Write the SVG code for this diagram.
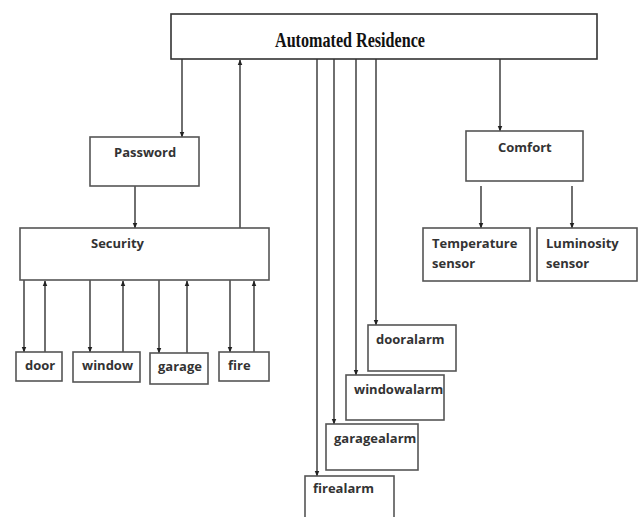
<svg xmlns="http://www.w3.org/2000/svg" width="640" height="517" viewBox="0 0 640 517">
<defs>
<marker id="ah" viewBox="0 0 10 10" refX="9" refY="5" markerWidth="6" markerHeight="6" orient="auto" markerUnits="userSpaceOnUse">
<path d="M0,1 L10,5 L0,9 z" fill="#222"/>
</marker>
<style>
.box{fill:#fff;stroke:#555;stroke-width:1.6}
.t{font-family:"Open Sans","Liberation Sans",sans-serif;font-weight:bold;font-size:13px;fill:#333}
.c line{stroke:#333;stroke-width:1.4;marker-end:url(#ah)}
.title{font-family:"Liberation Serif",serif;font-weight:bold;font-size:22px;fill:#111}
</style>
</defs>
<rect width="640" height="517" fill="#fff"/>
<g class="c" id="connectors">
<line x1="182" y1="59" x2="182" y2="137"/>
<line x1="240" y1="228" x2="240" y2="60"/>
<line x1="135" y1="186" x2="135" y2="228"/>
<line x1="500" y1="59" x2="500" y2="131"/>
<line x1="481" y1="186" x2="481" y2="228"/>
<line x1="572" y1="186" x2="572" y2="228"/>
<line x1="24" y1="280" x2="24" y2="352"/>
<line x1="45" y1="352" x2="45" y2="281"/>
<line x1="90" y1="280" x2="90" y2="352"/>
<line x1="123" y1="352" x2="123" y2="281"/>
<line x1="159" y1="280" x2="159" y2="353"/>
<line x1="187" y1="353" x2="187" y2="281"/>
<line x1="230" y1="280" x2="230" y2="352"/>
<line x1="254" y1="352" x2="254" y2="281"/>
<line x1="317" y1="59" x2="317" y2="476"/>
<line x1="334" y1="59" x2="334" y2="424"/>
<line x1="356" y1="59" x2="356" y2="375"/>
<line x1="376" y1="59" x2="376" y2="325"/>
</g>
<g id="residence">
<rect class="box" x="171" y="14" width="426" height="45" style="stroke:#333"/>
<text class="title" x="275" y="47" textLength="150" lengthAdjust="spacingAndGlyphs">Automated Residence</text>
</g>
<g id="password">
<rect class="box" x="90" y="137" width="109" height="49"/>
<text class="t" x="114" y="157">Password</text>
</g>
<g id="security">
<rect class="box" x="20" y="228" width="249" height="52"/>
<text class="t" x="91" y="248">Security</text>
</g>
<g id="door">
<rect class="box" x="16" y="352" width="46" height="29"/>
<text class="t" x="25" y="370">door</text>
</g>
<g id="window">
<rect class="box" x="73" y="352" width="67" height="30"/>
<text class="t" x="82" y="370">window</text>
</g>
<g id="garage">
<rect class="box" x="150" y="353" width="58" height="31"/>
<text class="t" x="158" y="371">garage</text>
</g>
<g id="fire">
<rect class="box" x="219" y="352" width="50" height="29"/>
<text class="t" x="228" y="370">fire</text>
</g>
<g id="comfort">
<rect class="box" x="466" y="131" width="117" height="50"/>
<text class="t" x="498" y="152">Comfort</text>
</g>
<g id="temperature">
<rect class="box" x="423" y="228" width="107" height="53"/>
<text class="t" x="432" y="248">Temperature</text>
<text class="t" x="432" y="268">sensor</text>
</g>
<g id="luminosity">
<rect class="box" x="537" y="228" width="100" height="53"/>
<text class="t" x="546" y="248">Luminosity</text>
<text class="t" x="546" y="268">sensor</text>
</g>
<g id="dooralarm">
<rect class="box" x="368" y="325" width="88" height="46"/>
<text class="t" x="376" y="344">dooralarm</text>
</g>
<g id="windowalarm">
<rect class="box" x="346" y="375" width="98" height="45"/>
<text class="t" x="354" y="394">windowalarm</text>
</g>
<g id="garagealarm">
<rect class="box" x="326" y="424" width="92" height="46"/>
<text class="t" x="334" y="443">garagealarm</text>
</g>
<g id="firealarm">
<rect class="box" x="305" y="476" width="89" height="50"/>
<text class="t" x="313" y="493">firealarm</text>
</g>
</svg>
